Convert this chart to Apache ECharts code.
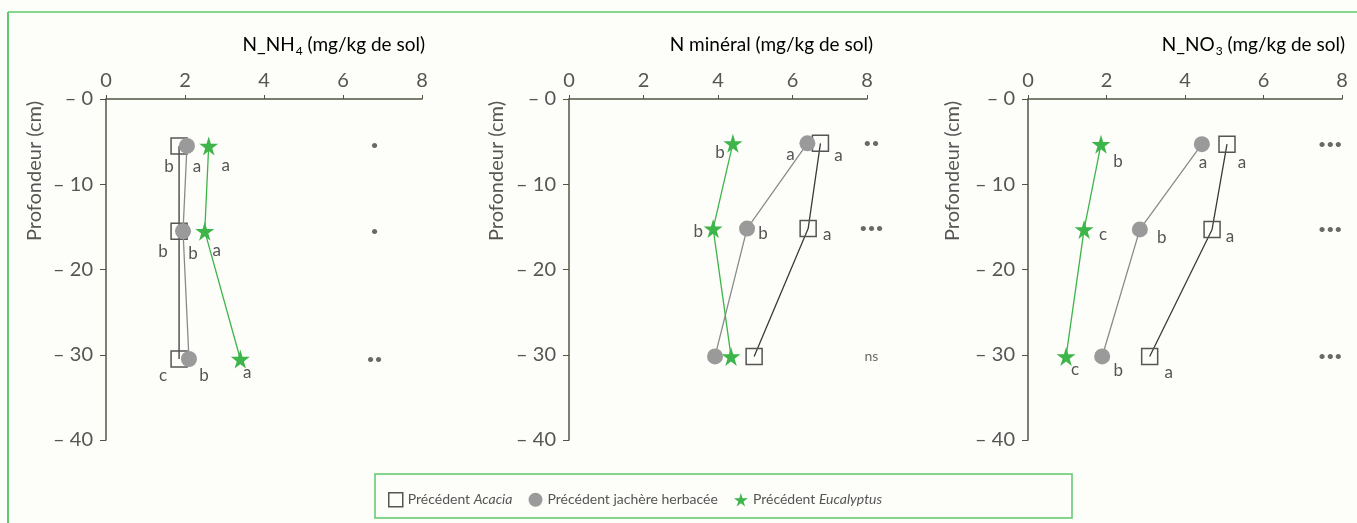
<!DOCTYPE html>
<html style="height: 100%">
<head>
<meta charset="utf-8">
<script src="https://cdn.jsdelivr.net/npm/echarts@6/dist/echarts.min.js"></script>
<style>
  html, body { margin: 0; height: 100%; background: #fdfdf9; }
</style>
</head>
<body>
<div id="container" style="width:1357px;height:523px"></div>
<script>
// series names
var seriesNames = ['Précédent Acacia', 'Précédent jachère herbacée', 'Précédent Eucalyptus'];

// depths (cm) for each panel
var depthNH4 = [-5.5, -15.5, -30.5];
var depthMin = [-5.2, -15.2, -30.2];
var depthNO3 = [-5.3, -15.3, -30.2];

// N_NH4 (mg/kg de sol)
var nh4Acacia = [1.85, 1.85, 1.85];
var nh4Jachere = [2.05, 1.95, 2.1];
var nh4Euca = [2.6, 2.5, 3.4];
var nh4LetAcacia = ['b', 'b', 'c'];
var nh4LetJachere = ['a', 'b', 'b'];
var nh4LetEuca = ['a', 'a', 'a'];
var nh4Signif = ['•', '•', '••'];

// N minéral
var minAcacia = [6.75, 6.42, 4.97];
var minJachere = [6.4, 4.78, 3.92];
var minEuca = [4.4, 3.87, 4.35];
var minLetAcacia = ['a', 'a', ''];
var minLetJachere = ['a', 'b', ''];
var minLetEuca = ['b', 'b', ''];
var minSignif = ['••', '•••', 'ns'];

// N_NO3
var no3Acacia = [5.07, 4.69, 3.1];
var no3Jachere = [4.43, 2.85, 1.89];
var no3Euca = [1.86, 1.43, 0.97];
var no3LetAcacia = ['a', 'a', 'a'];
var no3LetJachere = ['a', 'b', 'b'];
var no3LetEuca = ['b', 'c', 'c'];
var no3Signif = ['•••', '•••', '•••'];

var xTicks = [0, 2, 4, 6, 8];

var axisColor = '#4f5744';
var textColor = '#555';
var font = 'Lato';
var starPath = 'path://M50,0 L61,35 L98,35 L68,57 L79,91 L50,70 L21,91 L32,57 L2,35 L39,35 Z';

var panels = [
  { left: 106, width: 316, depth: depthNH4, signifX: 6.8, signif: nh4Signif,
    vals: [nh4Acacia, nh4Jachere, nh4Euca], lets: [nh4LetAcacia, nh4LetJachere, nh4LetEuca],
    offs: [[[-10, 21], [-16, 20], [-16, 17]], [[10, 21], [10, 22], [15, 17]], [[17, 20], [12, 19], [7, 14]]] },
  { left: 569, width: 298, depth: depthMin, signifX: 8.12, signif: minSignif,
    vals: [minAcacia, minJachere, minEuca], lets: [minLetAcacia, minLetJachere, minLetEuca],
    offs: [[[18, 12], [19, 6], [0, 0]], [[-17, 11], [16, 5], [0, 0]], [[-13, 9], [-15, 3], [0, 0]]] },
  { left: 1028, width: 314, depth: depthNO3, signifX: 7.7, signif: no3Signif,
    vals: [no3Acacia, no3Jachere, no3Euca], lets: [no3LetAcacia, no3LetJachere, no3LetEuca],
    offs: [[[15, 18], [18, 7], [19, 16]], [[1, 18], [22, 8], [16, 14]], [[17, 17], [19, 5], [9, 13]]] }
];

var seriesStyle = [
  { symbol: 'rect', symbolSize: 16, line: '#3a3a3a', item: { color: 'rgba(255,255,255,0)', borderColor: '#555', borderWidth: 1.5 } },
  { symbol: 'circle', symbolSize: 16, line: '#8a8a8a', item: { color: '#9a9a9a' } },
  { symbol: starPath, symbolSize: 19, line: '#3db54a', item: { color: '#3db54a' } }
];

var grids = [], xAxes = [], yAxes = [], series = [];
panels.forEach(function (p, i) {
  grids.push({ left: p.left, width: p.width, top: 99, height: 341 });
  xAxes.push({
    gridIndex: i, type: 'value', position: 'top', min: xTicks[0], max: xTicks[xTicks.length - 1], interval: 2,
    axisLine: { show: true, lineStyle: { color: axisColor, width: 1.5 } },
    axisTick: { show: true, length: 4, lineStyle: { color: axisColor } },
    axisLabel: { color: textColor, fontSize: 20, fontFamily: font, margin: 8 },
    splitLine: { show: false }
  });
  yAxes.push({
    gridIndex: i, type: 'value', min: -40, max: 0, interval: 10,
    axisLine: { show: true, lineStyle: { color: axisColor, width: 1.5 } },
    axisTick: { show: true, length: 6, lineStyle: { color: axisColor } },
    axisLabel: { color: textColor, fontSize: 20, fontFamily: font, margin: 13,
      formatter: function (v) { return '– ' + Math.abs(v); } },
    splitLine: { show: false }
  });
  seriesStyle.forEach(function (s, k) {
    series.push({
      name: seriesNames[k], type: 'line', xAxisIndex: i, yAxisIndex: i,
      symbol: s.symbol, symbolSize: s.symbolSize, showAllSymbol: true,
      lineStyle: { color: s.line, width: 1.3 },
      itemStyle: s.item,
      z: 2 + k,
      data: p.vals[k].map(function (v, j) {
        var l = p.lets[k][j];
        return {
          value: [v, p.depth[j]],
          label: {
            show: l !== '', position: 'inside', formatter: l, offset: p.offs[k][j],
            color: textColor, fontSize: 17, fontFamily: font
          }
        };
      })
    });
  });
  series.push({
    type: 'scatter', xAxisIndex: i, yAxisIndex: i, symbolSize: 1, clip: false,
    itemStyle: { color: 'rgba(0,0,0,0)' },
    label: { show: true, position: 'inside', color: '#444', fontSize: 14, fontFamily: font,
      formatter: function (d) { return d.data.t; } },
    data: p.signif.map(function (t, j) { return { value: [p.signifX, p.depth[j]], t: t }; })
  });
});

var titleRich = {
  a: { fontSize: 19, fontFamily: font, color: textColor, verticalAlign: 'middle', lineHeight: 24 },
  s: { fontSize: 12, fontFamily: font, color: textColor, verticalAlign: 'bottom', lineHeight: 24, padding: [0, 0, 0, 1] }
};
function titleText(x, text) {
  return { type: 'text', x: x, y: 45, style: { text: text, rich: titleRich, align: 'right', verticalAlign: 'middle' } };
}
function yName(x) {
  return { type: 'text', x: x, y: 171, rotation: Math.PI / 2,
    style: { text: 'Profondeur (cm)', fill: textColor, fontSize: 20, fontFamily: font, align: 'center', verticalAlign: 'middle' } };
}

var option = {
  backgroundColor: '#fdfdf9',
  animation: false,
  grid: grids,
  xAxis: xAxes,
  yAxis: yAxes,
  legend: {
    left: 383, top: 487, itemWidth: 14, itemHeight: 14, itemGap: 16,
    data: [
      { name: seriesNames[0], icon: 'rect', itemStyle: { color: 'rgba(255,255,255,0)', borderColor: '#555', borderWidth: 1.5 } },
      { name: seriesNames[1], icon: 'circle', itemStyle: { color: '#9a9a9a' } },
      { name: seriesNames[2], icon: starPath, itemStyle: { color: '#3db54a' } }
    ],
    formatter: function (n) {
      if (n === seriesNames[1]) return '{n|' + n + '}';
      return '{n|Précédent }{i|' + n.replace('Précédent ', '') + '}';
    },
    textStyle: {
      rich: {
        n: { fontSize: 14, fontFamily: font, color: textColor },
        i: { fontSize: 14, fontFamily: font, color: textColor, fontStyle: 'italic' }
      }
    },
    selectedMode: false
  },
  graphic: [
    { type: 'line', shape: { x1: 8, y1: 12, x2: 8, y2: 523 }, style: { stroke: '#5fc86b', lineWidth: 2 } },
    { type: 'line', shape: { x1: 8, y1: 12, x2: 1357, y2: 12 }, style: { stroke: '#5fc86b', lineWidth: 1.5 } },
    { type: 'rect', shape: { x: 375, y: 474, width: 697, height: 44 }, style: { fill: 'none', stroke: '#5fc86b', lineWidth: 1.5 } },
    titleText(425, '{a|N_NH}{s|4}{a| (mg/kg de sol)}'),
    titleText(873, '{a|N minéral (mg/kg de sol)}'),
    titleText(1345, '{a|N_NO}{s|3}{a| (mg/kg de sol)}'),
    yName(35), yName(497), yName(953)
  ],
  series: series
};

var myChart = echarts.init(document.getElementById('container'));
myChart.setOption(option);
</script>
</body>
</html>
